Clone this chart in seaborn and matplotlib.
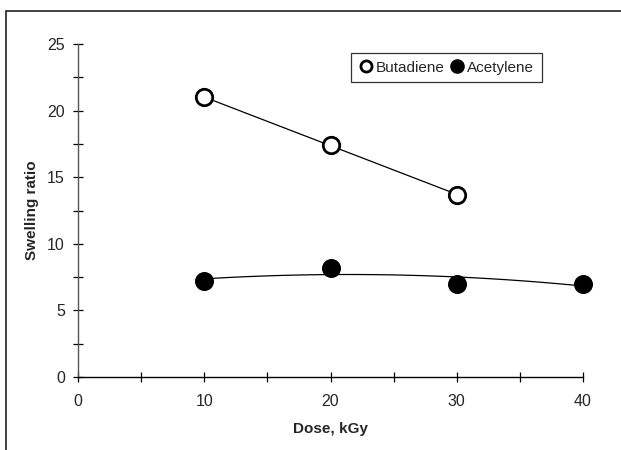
import numpy as np
import pandas as pd
import seaborn as sns
import matplotlib.pyplot as plt
from matplotlib.patches import Rectangle
from matplotlib.lines import Line2D
from matplotlib.ticker import MultipleLocator

# data
dose_but = [10, 20, 30]
swell_but = [21.0, 17.4, 13.7]
dose_ace = [10, 20, 30, 40]
swell_ace = [7.2, 8.2, 7.0, 7.0]

but = pd.DataFrame({"dose": dose_but, "swell": swell_but})
ace = pd.DataFrame({"dose": dose_ace, "swell": swell_ace})

sns.set_style("ticks")
plt.rcParams['font.family'] = ['Liberation Sans', 'DejaVu Sans']

fig = plt.figure(figsize=(6.21, 4.5), dpi=100)
ax = fig.add_axes([78 / 621, 1 - 377 / 450, 505 / 621, 333 / 450])

# trend lines
sns.regplot(data=but, x="dose", y="swell", order=1, ci=None, scatter=False,
            truncate=True, line_kws=dict(color="black", lw=0.9), ax=ax)
sns.regplot(data=ace, x="dose", y="swell", order=2, ci=None, scatter=False,
            truncate=True, line_kws=dict(color="black", lw=0.9), ax=ax)

# points
sns.scatterplot(data=but, x="dose", y="swell", marker="o", s=140,
                facecolor="white", edgecolor="black", linewidth=2, zorder=5,
                clip_on=False, ax=ax)
sns.scatterplot(data=ace, x="dose", y="swell", marker="o", s=160,
                color="black", edgecolor="black", zorder=5, clip_on=False, ax=ax)

ax.set_xlim(0, 40)
ax.set_ylim(0, 25)
ax.xaxis.set_major_locator(MultipleLocator(10))
ax.xaxis.set_minor_locator(MultipleLocator(5))
ax.yaxis.set_major_locator(MultipleLocator(5))
ax.yaxis.set_minor_locator(MultipleLocator(2.5))
ax.tick_params(which="both", direction="inout", length=7, width=0.9,
               color="black", labelsize=11.5, pad=6)
ax.tick_params(axis="x", pad=9)
sns.despine(ax=ax)
for s in ["left", "bottom"]:
    ax.spines[s].set_linewidth(1.0)
    ax.spines[s].set_color("black")
ax.spines["left"].set_color("#555555")

ax.set_xlabel("Dose, kGy", fontsize=11, fontweight="bold", labelpad=9)
ax.set_ylabel("Swelling ratio", fontsize=11, fontweight="bold", labelpad=6)

handles = [
    Line2D([], [], ls="none", marker="o", markersize=8, markerfacecolor="white",
           markeredgecolor="black", markeredgewidth=2),
    Line2D([], [], ls="none", marker="o", markersize=9.5, markerfacecolor="black",
           markeredgecolor="black"),
]
leg = ax.legend(handles, ["Butadiene", "Acetylene"], ncol=2, loc="upper left",
                bbox_to_anchor=((351 - 78) / 505, (377 - 53) / 333),
                borderaxespad=0, frameon=True, fancybox=False,
                handletextpad=0.25, columnspacing=0.3, handlelength=0.9,
                borderpad=0.5, fontsize=11)
leg.get_frame().set_edgecolor("black")
leg.get_frame().set_linewidth(0.9)

# outer chart border (runs off the right and bottom edges)
fig.patches.append(Rectangle((6 / 621, -0.1), 1.0, 1.1 - 11 / 450,
                             transform=fig.transFigure, fill=False,
                             edgecolor="#333333", lw=1.3, clip_on=False))

fig.savefig("out.png", dpi=100)
